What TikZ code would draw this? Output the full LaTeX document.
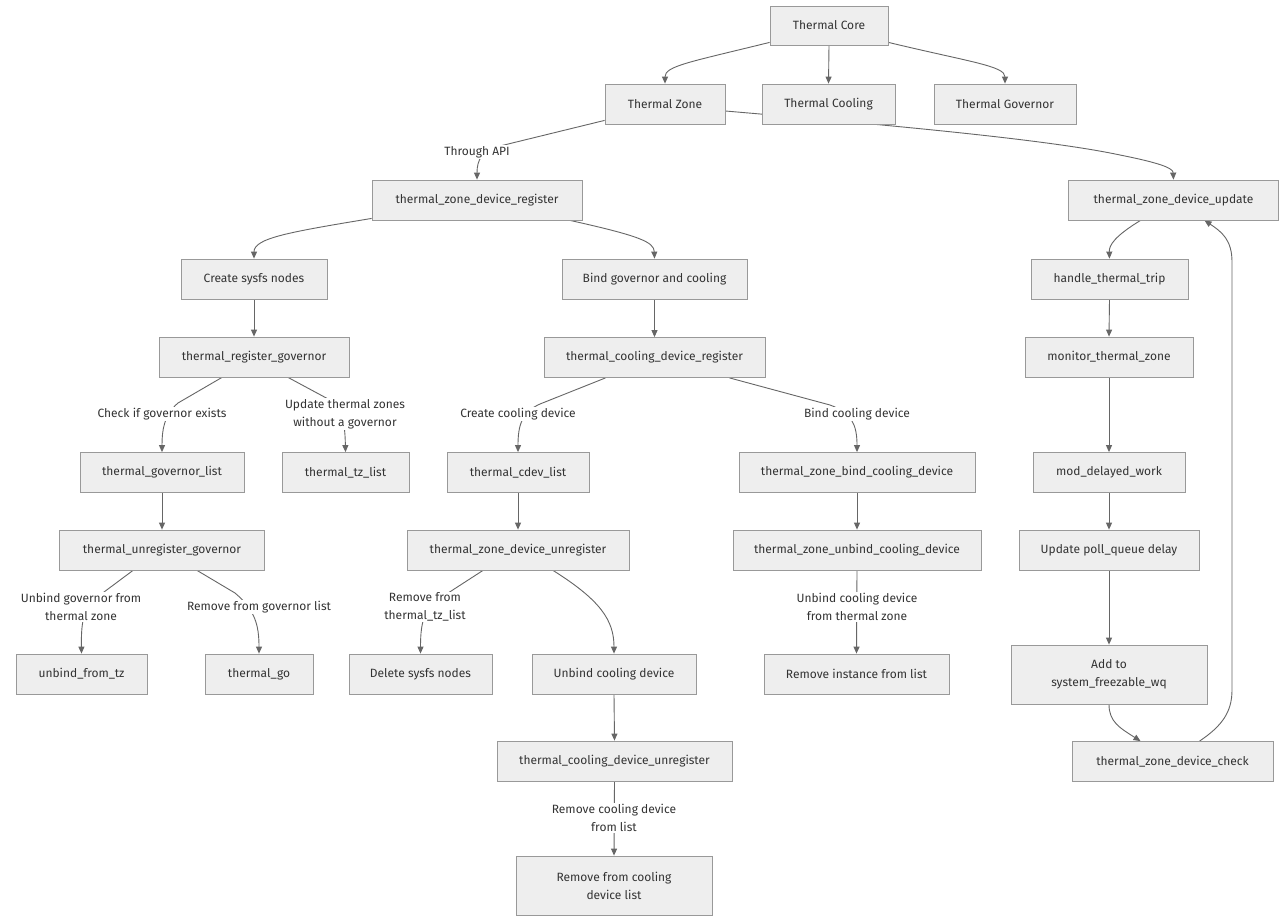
\documentclass[tikz,border=0pt]{standalone}
\usepackage{fontspec}
\setmainfont{Fira Sans}
\usetikzlibrary{arrows.meta,calc}
\definecolor{boxfill}{HTML}{EEEEEE}
\definecolor{boxline}{HTML}{999999}
\definecolor{edgeline}{HTML}{666666}
\definecolor{txt}{HTML}{333333}
\pgfdeclarelayer{bg}
\pgfsetlayers{bg,main}
\begin{document}
\begin{tikzpicture}[x=1pt,y=-1pt,
 box/.style={draw=boxline,fill=boxfill,minimum height=40pt,inner sep=2pt,align=center,text=txt,font=\fontsize{12}{18}\selectfont,line width=0.8pt},
 lbl/.style={fill=white,align=center,text=txt,font=\fontsize{12}{18}\selectfont,inner sep=1pt},
 edge/.style={draw=edgeline,line width=0.9pt,-{Triangle[length=7pt,width=6pt]}},
]
\useasboundingbox (0,0) rectangle (1280,921);

\node[box,minimum width=118pt,minimum height=39pt] (core) at (829,25.5) {Thermal Core};
\node[box,minimum width=120pt] (zone) at (665,104) {Thermal Zone};
\node[box,minimum width=133pt] (cool) at (828.5,104) {Thermal Cooling};
\node[box,minimum width=142pt] (gov) at (1005,104) {Thermal Governor};
\node[box,minimum width=210pt] (reg) at (477,200) {thermal\_zone\_device\_register};
\node[box,minimum width=210pt] (upd) at (1173.5,200) {thermal\_zone\_device\_update};
\node[box,minimum width=146pt] (sysfs) at (254,279) {Create sysfs nodes};
\node[box,minimum width=185pt] (bind) at (654.5,279) {Bind governor and cooling};
\node[box,minimum width=157pt] (trip) at (1109.5,279) {handle\_thermal\_trip};
\node[box,minimum width=190pt] (treg) at (254,357) {thermal\_register\_governor};
\node[box,minimum width=221pt] (cdreg) at (654.5,357.5) {thermal\_cooling\_device\_register};
\node[box,minimum width=168pt] (mon) at (1109,357) {monitor\_thermal\_zone};
\node[box,minimum width=164pt] (glist) at (162,472.5) {thermal\_governor\_list};
\node[box,minimum width=127pt] (tzl) at (345.5,472.5) {thermal\_tz\_list};
\node[box,minimum width=142pt] (cdl) at (518,472.5) {thermal\_cdev\_list};
\node[box,minimum width=236pt] (bcd) at (857,472.5) {thermal\_zone\_bind\_cooling\_device};
\node[box,minimum width=152pt] (mod) at (1109,472.5) {mod\_delayed\_work};
\node[box,minimum width=205pt] (ureg) at (162,550) {thermal\_unregister\_governor};
\node[box,minimum width=222pt] (zdu) at (518,550) {thermal\_zone\_device\_unregister};
\node[box,minimum width=248pt] (ubcd) at (857,550) {thermal\_zone\_unbind\_cooling\_device};
\node[box,minimum width=180pt] (poll) at (1109,550) {Update poll\_queue delay};
\node[box,minimum width=131pt] (ubtz) at (81.5,674) {unbind\_from\_tz};
\node[box,minimum width=108pt] (tgo) at (259,674) {thermal\_go};
\node[box,minimum width=143pt] (dsn) at (420.5,674) {Delete sysfs nodes};
\node[box,minimum width=164pt] (ucd) at (614,674) {Unbind cooling device};
\node[box,minimum width=185pt] (rinst) at (856.5,674) {Remove instance from list};
\node[box,minimum width=196pt,minimum height=59pt] (addq) at (1109,674.5) {Add to\\system\_freezable\_wq};
\node[box,minimum width=235pt] (cdu) at (614.5,761) {thermal\_cooling\_device\_unregister};
\node[box,minimum width=201pt] (chk) at (1172.5,761.5) {thermal\_zone\_device\_check};
\node[box,minimum width=196pt,minimum height=59pt] (rcool) at (614,885.5) {Remove from cooling\\device list};

\begin{pgfonlayer}{bg}
\fill[white] (0,0) rectangle (1280,921);
\draw[edge] ([yshift=3pt]core.south west) .. controls (690,62) and (665,66) .. (zone.north);
\draw[edge] (core.south) -- (cool.north);
\draw[edge] ([yshift=3pt]core.south east) .. controls (970,62) and (1005,66) .. (gov.north);
\draw[edge] ([yshift=-7pt]zone.east) .. controls (900,126) and (1050,140) .. (1120,155) .. controls (1160,163) and (1173,168) .. (upd.north);
\draw[edge] ([yshift=4pt]zone.south west) -- (500,146) .. controls (482,150) and (477,160) .. (reg.north);
\draw[edge] ([yshift=2pt]reg.south west) .. controls (290,232) and (254,238) .. (sysfs.north);
\draw[edge] ([xshift=93pt]reg.south) .. controls (640,236) and (654,242) .. (bind.north);
\draw[edge] (sysfs.south) -- (treg.north);
\draw[edge] (bind.south) -- (cdreg.north);
\draw[edge] ([xshift=-33pt]upd.south) .. controls (1115,236) and (1109,245) .. (trip.north);
\draw[edge] (trip.south) -- (mon.north);
\draw[edge] (mon.south) -- (mod.north);
\draw[edge] (mod.south) -- (poll.north);
\draw[edge] (poll.south) -- (addq.north);
\draw[edge] (addq.south) .. controls (1109,722) and (1120,728) .. ([xshift=-32pt]chk.north);
\draw[edge] ([xshift=27pt]chk.north) .. controls (1222,726) and (1232,712) .. (1232,690) -- (1232,262) .. controls (1232,240) and (1222,232) .. ([xshift=31pt]upd.south);
\draw[edge] ([xshift=-32pt]treg.south) -- (178,403) .. controls (164,415) and (162,430) .. (glist.north);
\draw[edge] ([xshift=34pt]treg.south) -- (330,400) .. controls (343,410) and (345,425) .. (tzl.north);
\draw[edge] (glist.south) -- (ureg.north);
\draw[edge] ([xshift=-29pt]ureg.south) -- (100,595) .. controls (84,605) and (81,620) .. (ubtz.north);
\draw[edge] ([xshift=35pt]ureg.south) -- (235,593) .. controls (255,610) and (259,625) .. (tgo.north);
\draw[edge] ([xshift=-49pt]cdreg.south) -- (540,404) .. controls (522,412) and (518,425) .. (cdl.north);
\draw[edge] ([xshift=75pt]cdreg.south) -- (830,405) .. controls (852,413) and (857,425) .. (bcd.north);
\draw[edge] (cdl.south) -- (zdu.north);
\draw[edge] (bcd.south) -- (ubcd.north);
\draw[edge] ([xshift=-35pt]zdu.south) -- (445,595) .. controls (425,605) and (420.5,620) .. (dsn.north);
\draw[edge] ([xshift=35pt]zdu.south) .. controls (600,600) and (614,620) .. (ucd.north);
\draw[edge] (ubcd.south) -- (rinst.north);
\draw[edge] (ucd.south) -- (cdu.north);
\draw[edge] (cdu.south) -- (rcool.north);
\end{pgfonlayer}

\node[lbl] (l1) at (477,152) {Through API};
\node[lbl] (l2) at (162,414) {Check if governor exists};
\node[lbl] (l3) at (345,414) {Update thermal zones\\without a governor};
\node[lbl] (l4) at (81,607) {Unbind governor from\\thermal zone};
\node[lbl] (l5) at (259,607) {Remove from governor list};
\node[lbl] (l6) at (518,414) {Create cooling device};
\node[lbl] (l7) at (857,414) {Bind cooling device};
\node[lbl] (l8) at (425,607) {Remove from\\thermal\_tz\_list};
\node[lbl] (l9) at (857,607) {Unbind cooling device\\from thermal zone};
\node[lbl] (l10) at (614,818) {Remove cooling device\\from list};
\end{tikzpicture}
\end{document}
